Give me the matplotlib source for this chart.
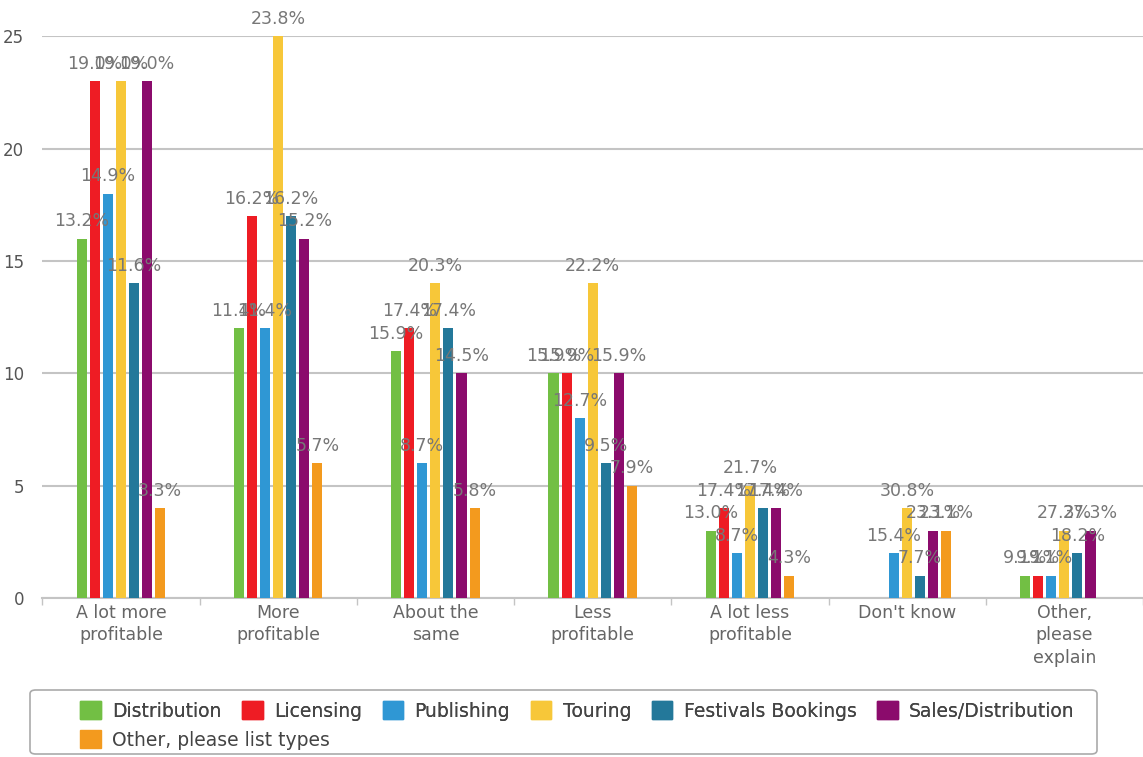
import numpy as np
import matplotlib
matplotlib.use("Agg")
import matplotlib.pyplot as plt
from matplotlib.patches import FancyBboxPatch, Patch

categories = ["A lot more\nprofitable", "More\nprofitable", "About the\nsame",
              "Less\nprofitable", "A lot less\nprofitable", "Don't know",
              "Other,\nplease\nexplain"]
series = ["Distribution", "Licensing", "Publishing", "Touring",
          "Festivals Bookings", "Sales/Distribution", "Other, please list types"]
colors = ["#72bf44", "#ee1c24", "#2f97d4", "#f7c739", "#23789a", "#8b0b6c", "#f39a1e"]

# counts per series, one value per category
distribution = [16, 12, 11, 10, 3, 0, 1]
licensing    = [23, 17, 12, 10, 4, 0, 1]
publishing   = [18, 12, 6, 8, 2, 2, 1]
touring      = [23, 25, 14, 14, 5, 4, 3]
festivals    = [14, 17, 12, 6, 4, 1, 2]
sales        = [23, 16, 10, 10, 4, 3, 3]
other        = [4, 6, 4, 5, 1, 3, 0]
values = np.array([distribution, licensing, publishing, touring, festivals, sales, other])
totals = values.sum(axis=0)

fig = plt.figure(figsize=(11.43, 7.57), dpi=100)
ax = fig.add_axes([0.037, 0.21, 0.963, 0.742])

x = np.arange(len(categories))
slot = 0.083
bw = 0.064
label_col = "#777777"

for i, (name, col) in enumerate(zip(series, colors)):
    xs = x + (i - 3) * slot
    ax.bar(xs, values[i], width=bw, color=col, zorder=3)
    for xi, v, t in zip(xs, values[i], totals):
        if v == 0:
            continue
        ax.annotate("%.1f%%" % (100.0 * v / t), (xi, v), xytext=(0, 6),
                    textcoords="offset points", ha="center", va="bottom",
                    fontsize=12.5, color=label_col, zorder=5, annotation_clip=False)

ax.set_xlim(-0.5, len(categories) - 0.5)
ax.set_ylim(0, 25)
ax.set_yticks([0, 5, 10, 15, 20, 25])
ax.yaxis.grid(True, color="#c4c4c4", linewidth=1.5, zorder=0)
ax.tick_params(axis="y", length=0, pad=13, labelsize=12, labelcolor="#555555")
ax.set_xticks(x)
ax.set_xticklabels(categories, fontsize=12.5, color="#666666", linespacing=1.35)
ax.tick_params(axis="x", length=0, pad=4)
ax.set_xticks(np.arange(-0.5, len(categories), 1.0), minor=True)
ax.tick_params(axis="x", which="minor", length=5, color="#c4c4c4", width=1)
for s in ["top", "right", "left"]:
    ax.spines[s].set_visible(False)
ax.spines["bottom"].set_color("#c4c4c4")
ax.spines["bottom"].set_linewidth(1.5)

# legend frame and two rows of entries
frame = FancyBboxPatch((30 / 1143, 3 / 757), 1067 / 1143, 64 / 757,
                       boxstyle="round,pad=0,rounding_size=0.005",
                       transform=fig.transFigure, facecolor="white",
                       edgecolor="#aaaaaa", linewidth=1.2)
fig.patches.append(frame)
handles = [Patch(facecolor=c, edgecolor=c) for c in colors]
leg1 = fig.legend(handles[:6], series[:6], loc="upper left", ncol=6,
                  bbox_to_anchor=(0.062, 1 - 692 / 757), frameon=False,
                  fontsize=13.5, handlelength=1.1, handleheight=1.1,
                  handletextpad=0.6, columnspacing=1.1, borderpad=0, labelcolor="#444444")
leg2 = fig.legend(handles[6:], series[6:], loc="upper left", ncol=1,
                  bbox_to_anchor=(0.062, 1 - 721 / 757), frameon=False,
                  fontsize=13.5, handlelength=1.1, handleheight=1.1,
                  handletextpad=0.6, borderpad=0, labelcolor="#444444")
fig.add_artist(leg1)

fig.savefig("out.png", dpi=100)
